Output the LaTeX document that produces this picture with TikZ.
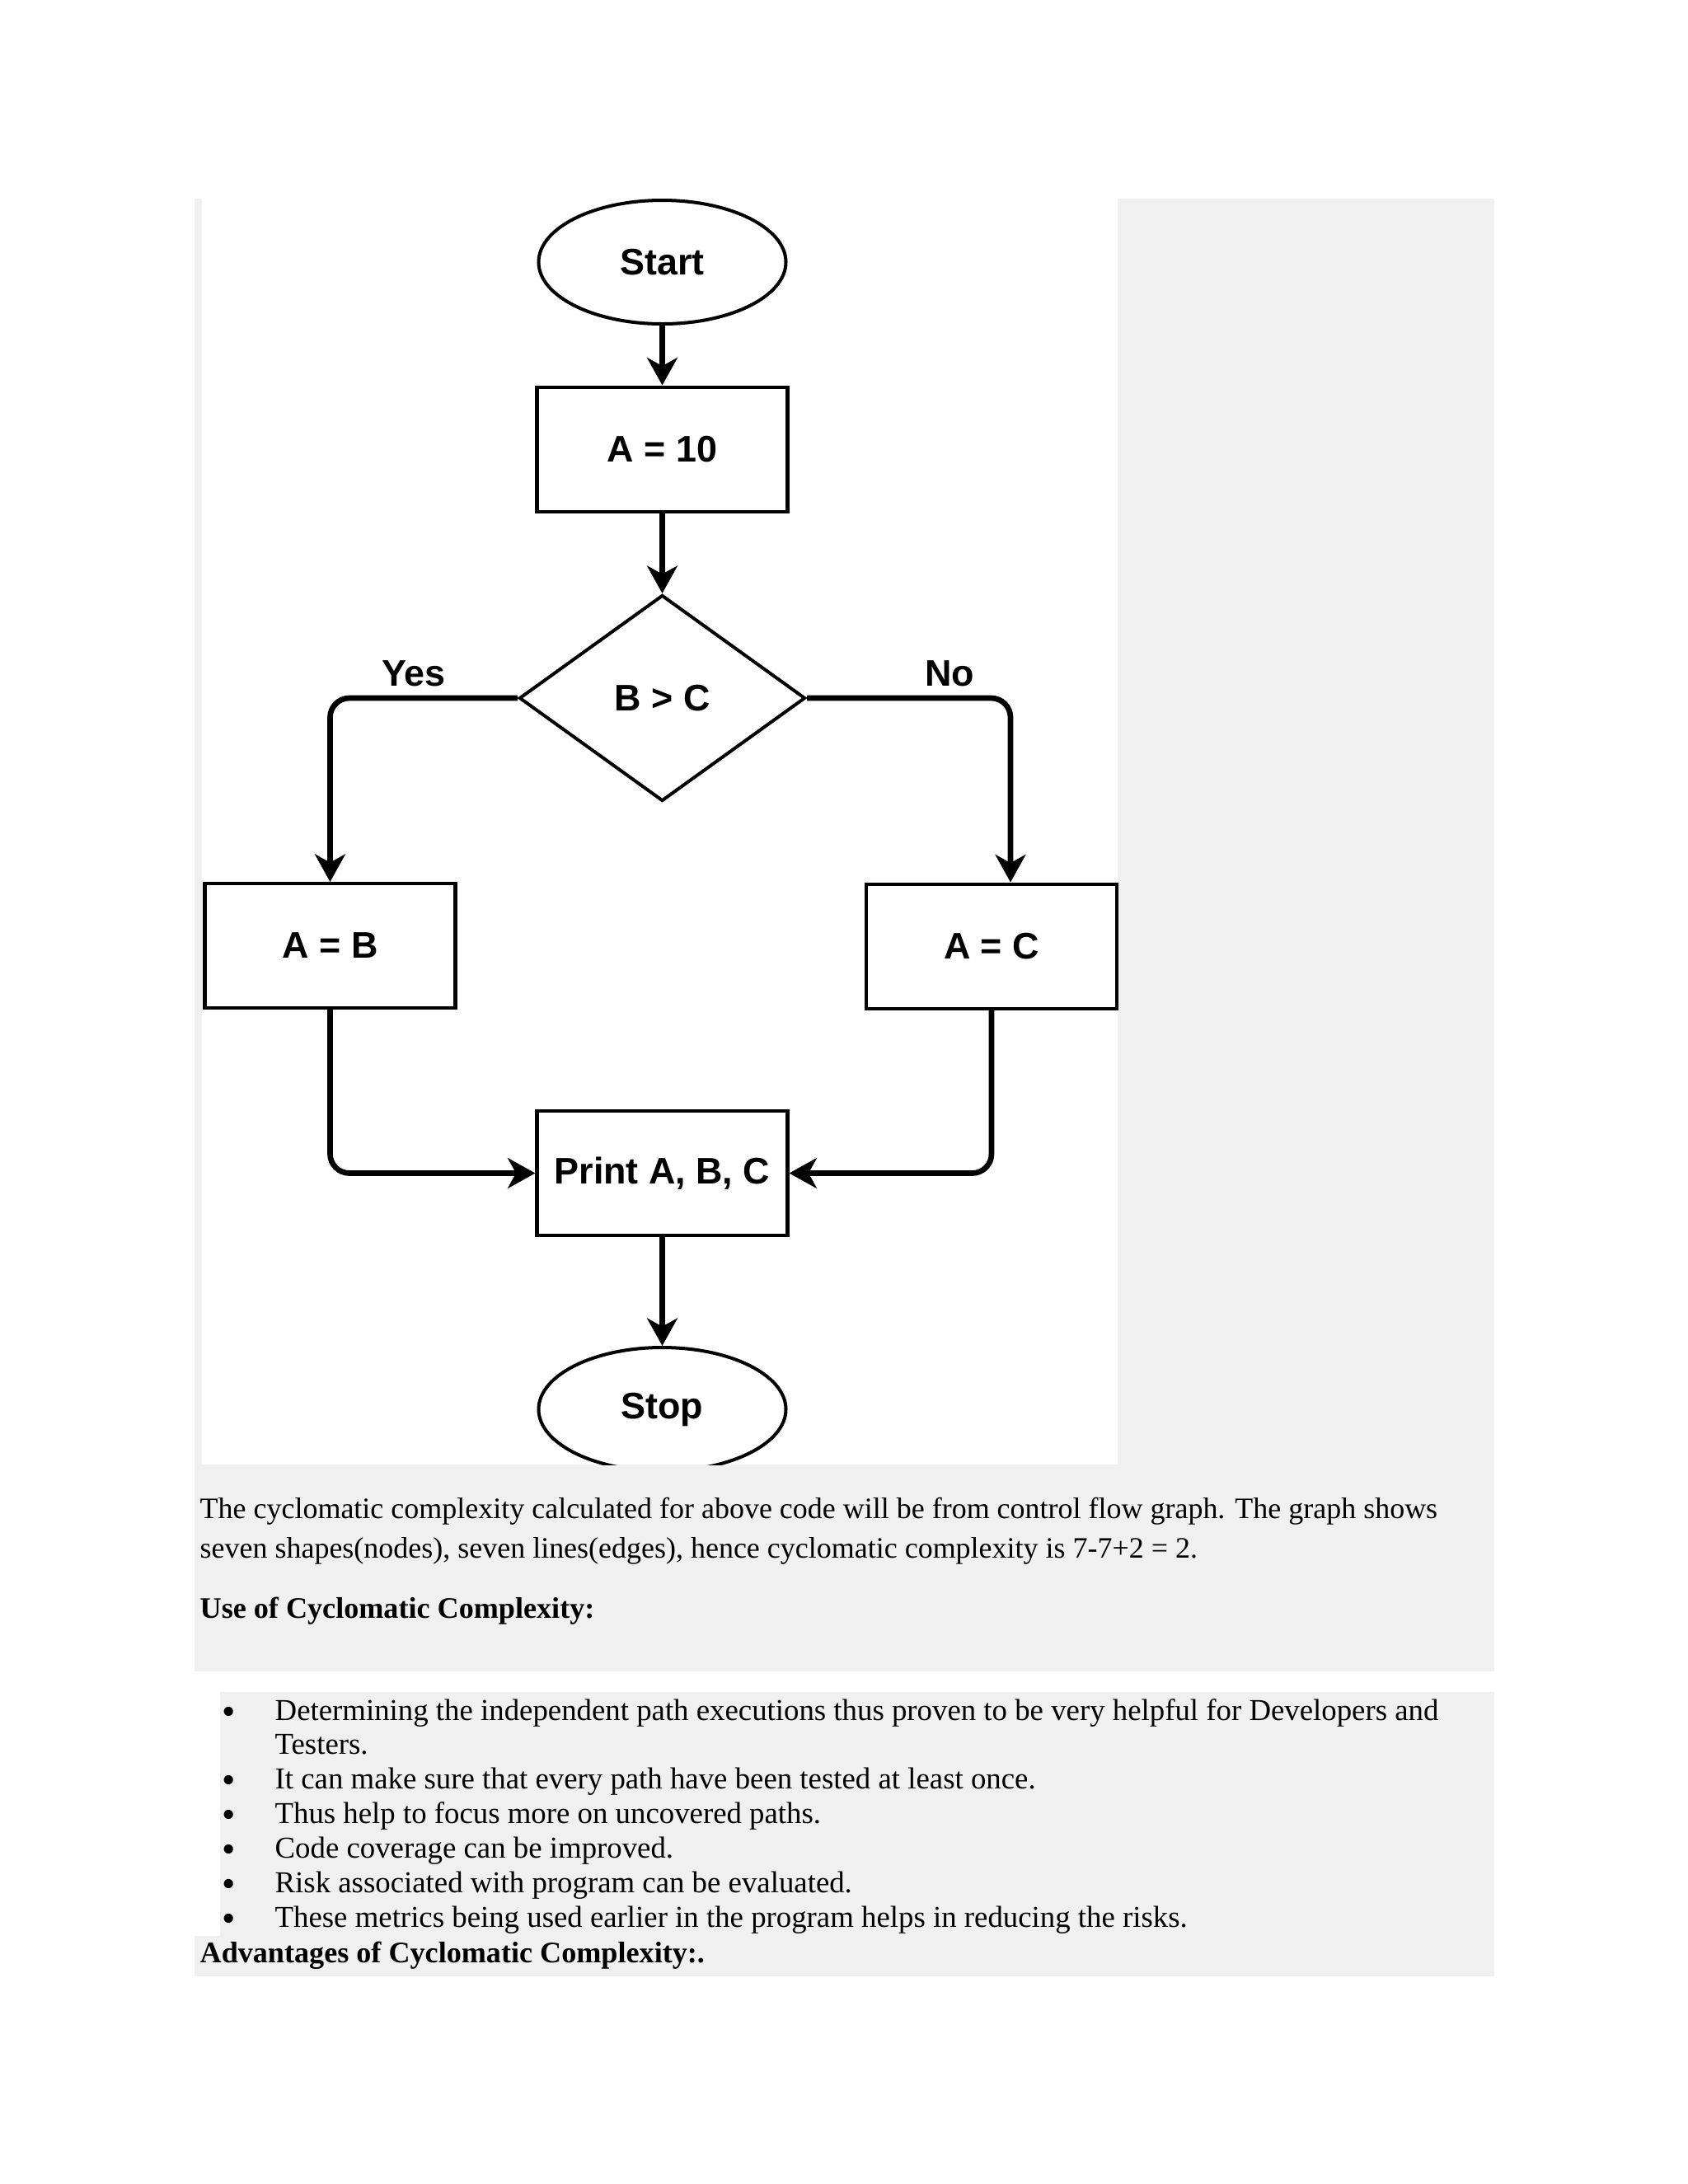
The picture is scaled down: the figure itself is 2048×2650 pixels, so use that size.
\documentclass[tikz,border=0pt]{standalone}
\usepackage{fontspec}
\setmainfont{Liberation Serif}
\newfontfamily\flowfont{Liberation Sans}
\usetikzlibrary{shapes.geometric,arrows.meta}
\def\pxl{0.29883pt}
\definecolor{panelgray}{RGB}{240,240,240}
\tikzset{
  flowtext/.style={font=\flowfont\bfseries\fontsize{13.4}{16}\selectfont},
  boxnode/.style={flowtext, draw, line width=1.2pt, rectangle, minimum width=304*\pxl, minimum height=151*\pxl, inner sep=0pt},
  ellnode/.style={flowtext, draw, line width=1.2pt, ellipse, minimum width=300*\pxl, minimum height=150*\pxl, inner sep=0pt},
  dianode/.style={flowtext, draw, line width=1.2pt, diamond, minimum width=347*\pxl, minimum height=250*\pxl, inner sep=0pt},
  lbl/.style={flowtext, inner sep=0pt, anchor=base},
  conn/.style={line width=2pt, rounded corners=7pt, -{Stealth[length=10pt,width=11pt,inset=3pt]}},
  bodytext/.style={font=\fontsize{10.75}{13}\selectfont, inner sep=0pt, anchor=base west},
  listtext/.style={font=\fontsize{11}{13}\selectfont, inner sep=0pt, anchor=base west},
  headtext/.style={font=\bfseries\fontsize{10.8}{13}\selectfont, inner sep=0pt, anchor=base west},
  bulletmark/.style={font=\fontsize{14}{14}\selectfont, inner sep=0pt, anchor=base}
}
\begin{document}
\begin{tikzpicture}[x=\pxl, y=-\pxl]
\useasboundingbox (0,0) rectangle (2048,2650);
\fill[white] (0,0) rectangle (2048,2650);
% panels
\fill[panelgray] (236,241) rectangle (1813,2028);
\fill[white] (245,241) rectangle (1356,1777);
\fill[panelgray] (267,2053) rectangle (1813,2349);
\fill[panelgray] (236,2349) rectangle (1813,2398);
% flowchart nodes
\node[ellnode] (start) at (803.5,318) {Start};
\node[boxnode] (a10) at (803.5,545) {A = 10};
\node[dianode] (dec) at (803.5,847) {B > C};
\node[boxnode] (ab) at (400.5,1147.5) {A = B};
\node[boxnode] (ac) at (1203,1148) {A = C};
\node[boxnode] (pr) at (803.5,1423.5) {Print A, B, C};
\begin{scope}
  \clip (245,241) rectangle (1356,1777);
  \node[ellnode] (stop) at (803.5,1710) {Stop};
\end{scope}
\node[lbl] (yes) at (502,832) {Yes};
\node[lbl] (no) at (1152,832) {No};
% connectors
\draw[conn] (start.south) -- (a10.north);
\draw[conn] (a10.south) -- (dec.north);
\draw[conn] (dec.west) -| (ab.north);
\draw[conn] (dec.east) -| ([xshift=23*\pxl]ac.north);
\draw[conn] (ab.south) |- (pr.west);
\draw[conn] (ac.south) |- (pr.east);
\draw[conn] (pr.south) -- (stop.north);
% body text
\node[bodytext] (p1) at (242,1842) {The cyclomatic complexity calculated for above code will be from control flow graph. The graph shows};
\node[bodytext] (p2) at (242,1890) {seven shapes(nodes), seven lines(edges), hence cyclomatic complexity is 7-7+2 = 2.};
\node[headtext] (h1) at (242,1963) {Use of Cyclomatic Complexity:};
\node[bulletmark] (b1) at (278,2092) {•};
\node[listtext] (t1) at (333,2087) {Determining the independent path executions thus proven to be very helpful for Developers and};
\node[listtext] (t1b) at (333,2128) {Testers.};
\node[bulletmark] (b2) at (278,2175) {•};
\node[listtext] (t2) at (333,2170) {It can make sure that every path have been tested at least once.};
\node[bulletmark] (b3) at (278,2217) {•};
\node[listtext] (t3) at (333,2212) {Thus help to focus more on uncovered paths.};
\node[bulletmark] (b4) at (278,2259) {•};
\node[listtext] (t4) at (333,2254) {Code coverage can be improved.};
\node[bulletmark] (b5) at (278,2301) {•};
\node[listtext] (t5) at (333,2296) {Risk associated with program can be evaluated.};
\node[bulletmark] (b6) at (278,2343) {•};
\node[listtext] (t6) at (333,2338) {These metrics being used earlier in the program helps in reducing the risks.};
\node[headtext] (h2) at (242,2381) {Advantages of Cyclomatic Complexity:.};
\end{tikzpicture}
\end{document}
